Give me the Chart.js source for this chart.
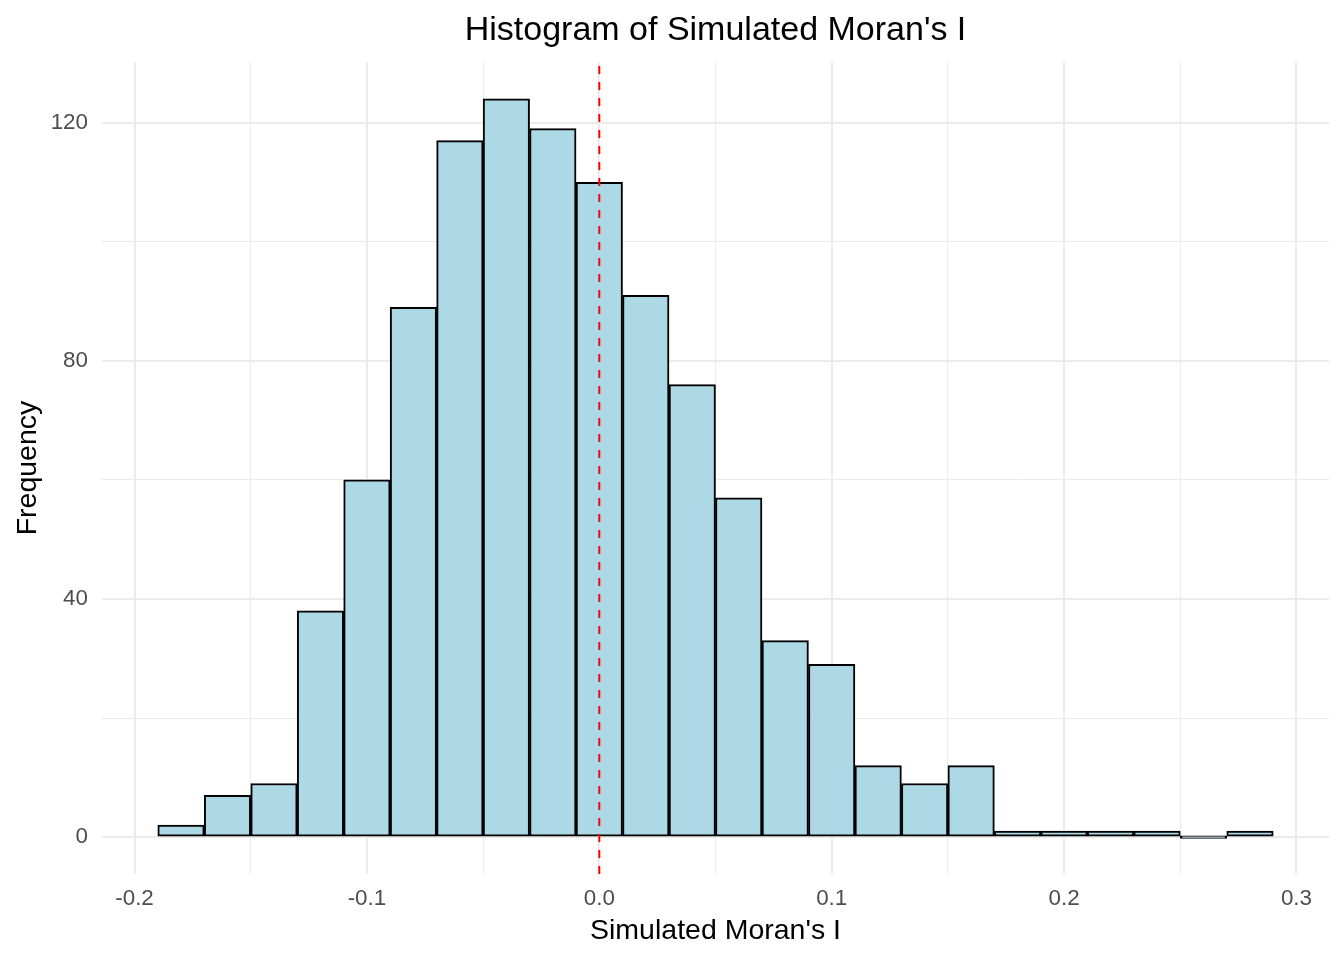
<!DOCTYPE html>
<html>
<head>
<meta charset="utf-8">
<script src="https://cdn.jsdelivr.net/npm/chart.js@4/dist/chart.umd.min.js"></script>
<style>
  html, body { margin: 0; padding: 0; background: #fff; }
  #wrap { width: 1344px; height: 960px; }
</style>
</head>
<body>
<div id="wrap"><canvas id="hist"></canvas></div>
<script>
// bin centres (bin width 0.02) and counts
const binCenters = [-0.18, -0.16, -0.14, -0.12, -0.10, -0.08, -0.06, -0.04, -0.02, 0.00,
    0.02, 0.04, 0.06, 0.08, 0.10, 0.12, 0.14, 0.16, 0.18, 0.20, 0.22, 0.24, 0.26, 0.28];
const counts = [2, 7, 9, 38, 60, 89, 117, 124, 119, 110,
    91, 76, 57, 33, 29, 12, 9, 12, 1, 1, 1, 1, 0, 1];
const observedLine = [0.0];
const xLimits = [-0.214, 0.314];
const yLimits = [-6.2, 130.2];

const FONT = "'Liberation Sans', Arial, sans-serif";
const GRID = '#ebebeb';

const isMajor = (v, step) => Math.abs(v / step - Math.round(v / step)) < 1e-6;

const ctx = document.getElementById('hist').getContext('2d');
new Chart(ctx, {
    type: 'bar',
    data: {
        datasets: [
            {
                label: 'Frequency',
                data: binCenters.map((x, i) => ({ x: x, y: counts[i] })),
                backgroundColor: '#add8e6',
                borderColor: '#000000',
                borderWidth: 2,
                borderSkipped: false,
                minBarLength: 2.5,
                barPercentage: 1,
                categoryPercentage: 1,
                order: 2
            },
            {
                type: 'line',
                label: 'Observed',
                data: [{ x: observedLine[0], y: yLimits[0] }, { x: observedLine[0], y: yLimits[1] }],
                borderColor: '#ff0000',
                borderWidth: 2,
                borderDash: [8, 8],
                pointRadius: 0,
                fill: false,
                order: 1
            }
        ]
    },
    options: {
        responsive: true,
        maintainAspectRatio: false,
        animation: false,
        layout: { padding: { left: 0, right: 15, top: 0, bottom: 12 } },
        plugins: {
            legend: { display: false },
            tooltip: { enabled: false },
            title: {
                display: true,
                text: "Histogram of Simulated Moran's I",
                color: '#000',
                fullSize: false,
                font: { family: FONT, size: 34, weight: 'normal', lineHeight: 1.2 },
                padding: { top: 10.3, bottom: 10.9 }
            }
        },
        scales: {
            x: {
                type: 'linear',
                min: xLimits[0],
                max: xLimits[1],
                offset: false,
                border: { display: false },
                grid: {
                    offset: false,
                    drawTicks: false,
                    color: GRID,
                    lineWidth: c => isMajor(c.tick.value, 0.1) ? 2 : 1
                },
                ticks: {
                    stepSize: 0.05,
                    includeBounds: false,
                    autoSkip: false,
                    maxRotation: 0,
                    padding: 11,
                    color: '#4d4d4d',
                    font: { family: FONT, size: 22.4 },
                    callback: v => isMajor(v, 0.1) ? (Math.abs(v) < 1e-9 ? 0 : v).toFixed(1) : ''
                },
                title: {
                    display: true,
                    text: "Simulated Moran's I",
                    color: '#000',
                    font: { family: FONT, size: 28.5, lineHeight: 1.2 },
                    padding: { top: 4, bottom: 0 }
                },
                afterFit: s => { s.height = 74; }
            },
            y: {
                min: yLimits[0],
                max: yLimits[1],
                border: { display: false },
                grid: {
                    drawTicks: false,
                    color: GRID,
                    lineWidth: c => isMajor(c.tick.value, 40) ? 2 : 1
                },
                ticks: {
                    stepSize: 20,
                    includeBounds: false,
                    autoSkip: false,
                    padding: 14,
                    color: '#4d4d4d',
                    font: { family: FONT, size: 22.4 },
                    callback: v => isMajor(v, 40) ? String(Math.round(v)) : ''
                },
                title: {
                    display: true,
                    text: 'Frequency',
                    color: '#000',
                    font: { family: FONT, size: 28.5, lineHeight: 1.2 },
                    padding: { top: 11, bottom: 0 }
                },
                afterFit: s => { s.width = 102; }
            }
        }
    }
});
</script>
</body>
</html>
